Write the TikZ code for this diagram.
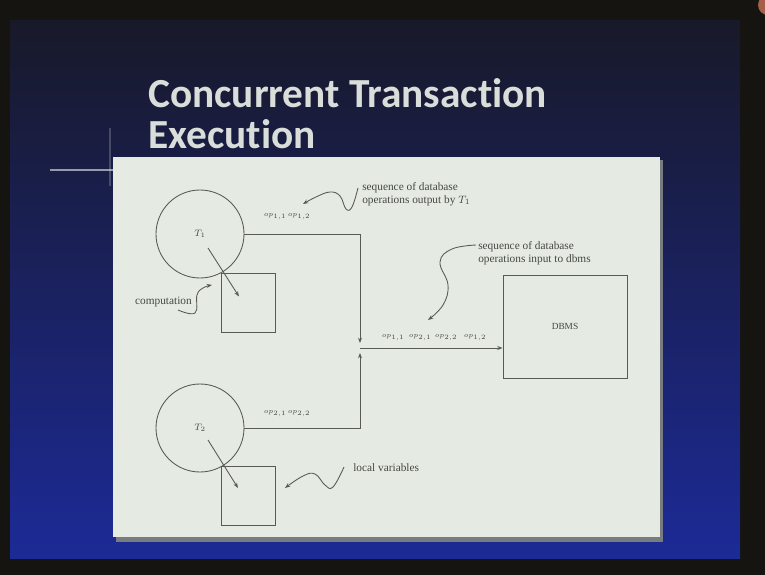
\documentclass[tikz,border=0pt]{standalone}
\usepackage{fontspec}
\setmainfont{Liberation Serif}
\newfontfamily\titlefont{Carlito}[Ligatures=NoCommon]
\usepackage{xcolor}
\usepackage{tikz}
\usetikzlibrary{arrows.meta, positioning, calc}
\definecolor{framedark}{RGB}{22, 20, 17}
\definecolor{slidetop}{RGB}{24, 25, 40}
\definecolor{slidemid}{RGB}{27, 30, 70}
\definecolor{slidebottom}{RGB}{28, 42, 150}
\definecolor{panelwhite}{RGB}{229, 234, 226}
\definecolor{shadowgray}{RGB}{120, 124, 128}
\definecolor{titlegray}{RGB}{218, 222, 218}
\definecolor{linegray}{RGB}{88, 90, 88}
\definecolor{inkgray}{RGB}{70, 72, 70}
\definecolor{logobrown}{RGB}{165, 95, 75}

\begin{document}
\begin{tikzpicture}[
    x=0.75pt, y=-0.75pt,
    titletext/.style={font=\titlefont\bfseries\fontsize{31}{36}\selectfont, text=titlegray, inner sep=0pt},
    procnode/.style={circle, draw=linegray, line width=0.65pt, minimum size=66pt, inner sep=0pt,
                     text=inkgray, font=\fontsize{7}{8}\selectfont},
    varbox/.style={rectangle, draw=linegray, line width=0.65pt, minimum width=40.5pt, minimum height=44.25pt},
    dbmsbox/.style={rectangle, draw=linegray, line width=0.65pt, minimum width=93pt, minimum height=77.25pt,
                    text=inkgray, font=\fontsize{7}{8}\selectfont},
    note/.style={font=\fontsize{8.5}{9.75}\selectfont, text=inkgray, inner sep=0pt, align=left},
    oplabel/.style={font=\fontsize{5.5}{6.5}\selectfont, text=inkgray, inner sep=0pt},
    flow/.style={draw=linegray, line width=0.65pt, -{Stealth[length=4pt, width=3pt]}},
    pointer/.style={draw=linegray, line width=0.65pt, -{Stealth[length=4pt, width=3pt]}}
]
    % slide and frame
    \fill[framedark] (0,0) rectangle (765,575);
    \shade[top color=slidetop, middle color=slidemid, bottom color=slidebottom] (10,20) rectangle (740,558);
    \begin{scope}
        \clip (745,0) rectangle (765,20);
        \fill[logobrown] (768,5) circle (10);
    \end{scope}
    \draw[white, opacity=0.55, line width=0.8pt] (50,170) -- (113,170);
    \draw[white, opacity=0.2, line width=0.8pt] (110,128) -- (110,186);

    % title
    \node[titletext, anchor=base west] (title1) at (148,107) {Concurrent Transaction};
    \node[titletext, anchor=base west] (title2) at (148,148) {Execution};

    % panel
    \fill[shadowgray] (116,160) rectangle (663,542);
    \fill[panelwhite] (113,157) rectangle (660,537);

    % transactions and their local variables
    \node[procnode] (t1) at (200,234) {$T_1$};
    \node[varbox] (b1) at (248,302.5) {};
    \node[procnode] (t2) at (200,428) {$T_2$};
    \node[varbox] (b2) at (248,496) {};
    \node[dbmsbox] (dbms) at (565,326.5) {DBMS};

    \draw[pointer] ($(t1)+(8,14)$) -- ($(b1)+(-9,-6)$);
    \draw[pointer] ($(t2)+(8,12)$) -- ($(b2)+(-10,-8)$);

    % operation streams
    \coordinate (merge) at (360,348);
    \coordinate (mtop) at (360,343);
    \coordinate (mbot) at (360,353);
    \draw[flow] (t1.east) -| (mtop);
    \draw[flow] (t2.east) -| (mbot);
    \draw[flow] (merge) -- (merge -| dbms.west);

    \node[oplabel] (op1a) at (275,217) {$op_{1,1}$};
    \node[oplabel] (op1b) at (299,217) {$op_{1,2}$};
    \node[oplabel] (op2a) at (275,414) {$op_{2,1}$};
    \node[oplabel] (op2b) at (299,414) {$op_{2,2}$};
    \node[oplabel] (opm1) at (393,338) {$op_{1,1}$};
    \node[oplabel] (opm2) at (420,338) {$op_{2,1}$};
    \node[oplabel] (opm3) at (446,338) {$op_{2,2}$};
    \node[oplabel] (opm4) at (475,338) {$op_{1,2}$};

    % notes
    \node[note, anchor=north west] (seqout) at (362,182) {sequence of database\\operations output by $T_1$};
    \node[note, anchor=north west] (seqin) at (478,241) {sequence of database\\operations input to dbms};
    \node[note, anchor=east] (comp) at (192,302) {computation};
    \node[note, anchor=west] (locvar) at (353,468) {local variables};

    \draw[pointer] plot[smooth, tension=0.7] coordinates {(358,188) (352,207) (346,209) (340,196) (330,192) (316,197) (303,204)};
    \draw[pointer] plot[smooth, tension=0.7] coordinates {(476,245) (452,249) (440,262) (448,285) (443,305) (428,320)};
    \draw[pointer] plot[smooth, tension=0.7] coordinates {(178,310) (195,313) (197,295) (203,288) (212,285)};
    \draw[pointer] plot[smooth, tension=0.7] coordinates {(344,467) (333,487) (325,485) (315,474) (303,476) (285,488)};
\end{tikzpicture}
\end{document}
